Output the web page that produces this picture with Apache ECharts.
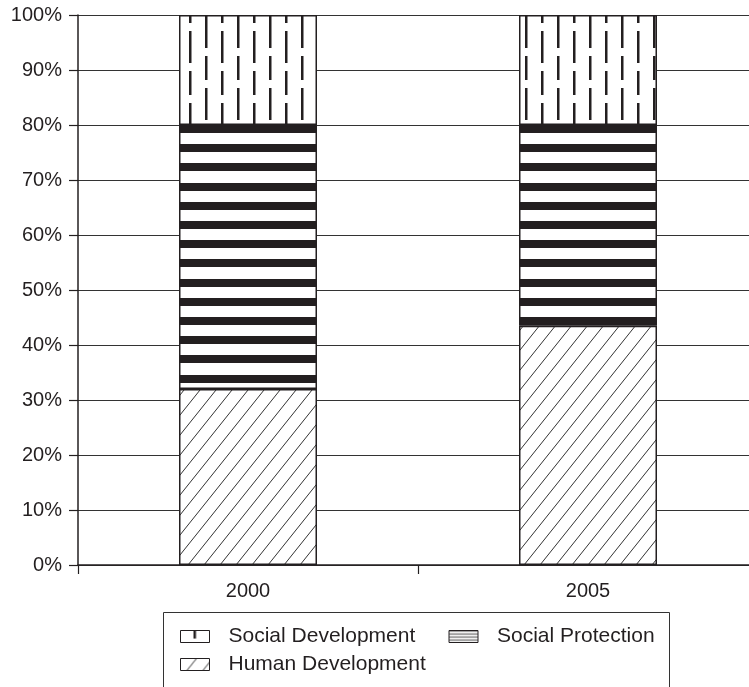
<!DOCTYPE html>
<html><head><meta charset="utf-8">
<script src="https://cdn.jsdelivr.net/npm/echarts/dist/echarts.min.js"></script>
<style>html,body{margin:0;padding:0;background:#fff}#c{width:749px;height:687px}</style>
</head><body><div id="c"></div>
<script>
const categories = ['2000', '2005'];
const humanDevelopment = [32, 43.5];
const socialProtection = [48, 36.5];
const socialDevelopment = [20, 20];
const seriesNames = ['Social Development', 'Social Protection', 'Human Development'];

const INK = '#231f20';
const FONT = '"Liberation Sans", Arial, sans-serif';

function mk(w, h, draw) {
  const c = document.createElement('canvas');
  c.width = w; c.height = h;
  const g = c.getContext('2d');
  g.fillStyle = '#fff'; g.fillRect(0, 0, w, h);
  draw(g);
  return c;
}
const stripePat = mk(8, 96, g => {
  g.fillStyle = INK;
  [10, 29, 48, 67, 87].forEach(y => g.fillRect(0, y, 8, 8));
});
const dashPat = mk(32, 72, g => {
  g.fillStyle = INK;
  g.fillRect(13, 0, 2.5, 72);
  g.fillRect(29, 0, 2.5, 72);
  g.fillStyle = '#fff';
  g.fillRect(12, 8, 5, 8); g.fillRect(12, 48, 5, 8);
  g.fillRect(28, 23, 5, 8); g.fillRect(28, 63, 5, 8);
});
const hatchPat = mk(16, 20, g => {
  g.strokeStyle = '#333'; g.lineWidth = 1;
  g.beginPath();
  for (const dx of [-16, 0, 16]) { g.moveTo(dx, 20); g.lineTo(dx + 16, 0); }
  g.stroke();
});
const finePat = mk(4, 3, g => { g.fillStyle = '#666'; g.fillRect(0, 0, 4, 1.2); });
const pat = c => ({ image: c, repeat: 'repeat' });

const chart = echarts.init(document.getElementById('c'));
chart.setOption({
  animation: false,
  backgroundColor: '#fff',
  grid: { left: 78, top: 15, width: 680, bottom: 122, containLabel: false, outerBoundsMode: 'none' },
  xAxis: {
    type: 'category', data: categories,
    axisLine: { lineStyle: { color: INK, width: 1.5 } },
    axisTick: { show: true, length: 9, lineStyle: { color: INK, width: 1.2 } },
    axisLabel: { margin: 16, fontSize: 20, color: INK, fontFamily: FONT }
  },
  yAxis: {
    type: 'value', min: 0, max: 100, interval: 10,
    axisLine: { show: true, lineStyle: { color: INK, width: 1.5 } },
    axisTick: { show: true, length: 9, lineStyle: { color: INK, width: 1.2 } },
    axisLabel: { formatter: '{value}%', margin: 16, fontSize: 20, color: INK, fontFamily: FONT },
    splitLine: { show: true, lineStyle: { color: '#333', width: 1 } }
  },
  legend: {
    data: [
      { name: seriesNames[0] },
      { name: seriesNames[1], itemStyle: { color: pat(finePat) } },
      { name: seriesNames[2] }
    ],
    left: 180, top: 626, width: 540, padding: 0, itemGap: 7,
    itemWidth: 29, itemHeight: 12, icon: 'rect',
    itemStyle: { borderColor: INK, borderWidth: 1 },
    textStyle: { fontSize: 21, color: INK, fontFamily: FONT, lineHeight: 21,
      padding: [0, 0, 0, 14], width: 213, overflow: 'none' }
  },
  graphic: [{
    type: 'rect', z: -1, silent: true,
    shape: { x: 163.5, y: 612.5, width: 506, height: 120 },
    style: { fill: 'none', stroke: '#333', lineWidth: 1 }
  }],
  series: [
    { name: seriesNames[2], type: 'bar', stack: 's', barWidth: 138, data: humanDevelopment,
      itemStyle: { color: pat(hatchPat), borderColor: INK, borderWidth: 1.5 } },
    { name: seriesNames[1], type: 'bar', stack: 's', barWidth: 138, data: socialProtection,
      itemStyle: { color: pat(stripePat), borderColor: INK, borderWidth: 1.5 } },
    { name: seriesNames[0], type: 'bar', stack: 's', barWidth: 138, data: socialDevelopment,
      itemStyle: { color: pat(dashPat), borderColor: INK, borderWidth: 1.5 } }
  ]
});
</script>
</body></html>
